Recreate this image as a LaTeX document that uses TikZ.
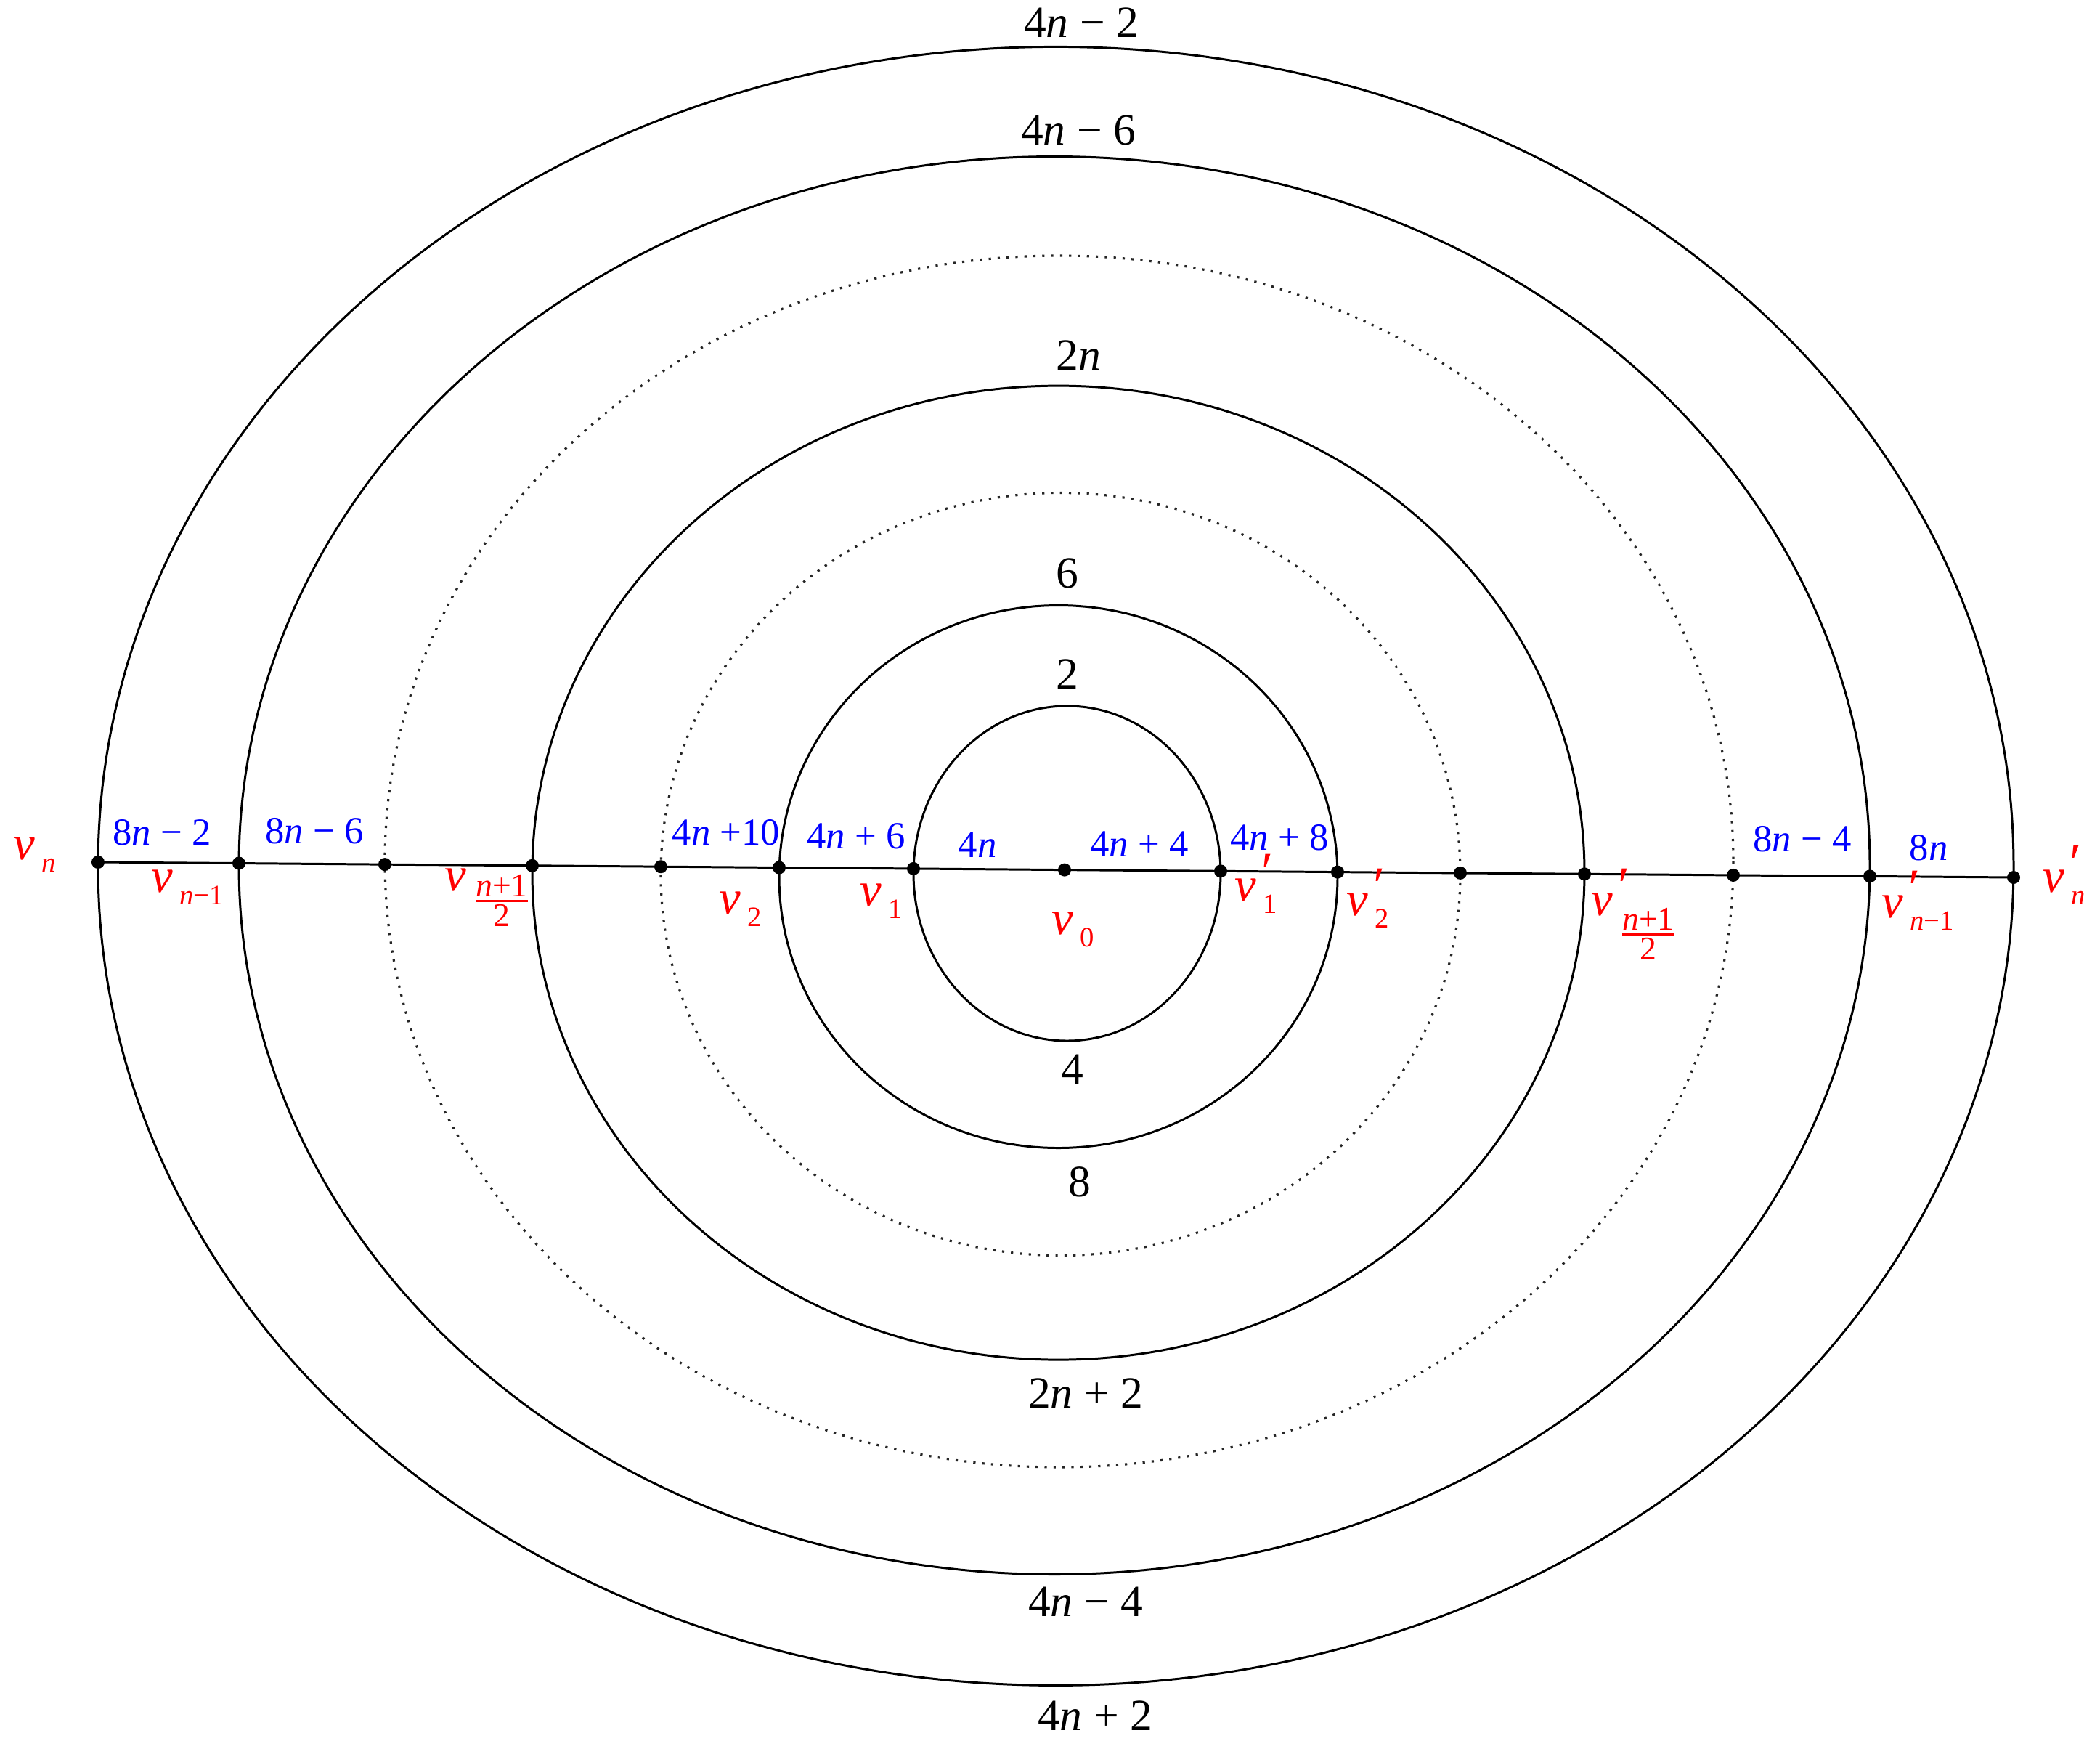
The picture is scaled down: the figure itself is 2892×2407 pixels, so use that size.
\documentclass[tikz,border=0pt]{standalone}
\usepackage{amsmath}
\usepackage{fontspec}
\setmainfont{Liberation Serif}
\newcommand{\bigv}{{\fontsize{19}{19}\selectfont\textit{v}}}
\newcommand{\subsz}{\fontsize{11}{11}\selectfont}
\newcommand{\frsz}{\fontsize{13}{13}\selectfont}
\newcommand{\prm}{\rlap{\kern2pt\raisebox{4.5pt}{\fontsize{21}{21}\selectfont ′}}}
\newcommand{\vsb}[1]{\bigv\kern2.5pt\raisebox{-5pt}{\subsz #1}}
\newcommand{\vpr}[1]{\bigv\prm\kern2.5pt\raisebox{-5pt}{\subsz #1}}
\newcommand{\hfr}{\ensuremath{\genfrac{}{}{0.9pt}{}{\hbox{\frsz\textit{n}+1}}{\hbox{\frsz 2}}}}
\newcommand{\vfrac}{\bigv\kern2.5pt\raisebox{-7pt}{\frsz\hfr}}
\newcommand{\vpfrac}{\bigv\prm\kern2.5pt\raisebox{-10.5pt}{\frsz\hfr}}
\tikzset{
  ring/.style={line width=0.85pt},
  dotring/.style={line width=0.9pt, black!85, dash pattern=on 0.9pt off 2.6pt},
  axisline/.style={line width=0.85pt},
  vdot/.style={circle, fill=black, inner sep=0pt, minimum size=1.8mm},
  blab/.style={font=\fontsize{17.5}{17.5}\selectfont, inner sep=0pt},
  elab/.style={text=blue, font=\fontsize{15}{15}\selectfont, inner sep=0pt},
  vlab/.style={text=red, inner sep=0pt, anchor=base west},
}
\begin{document}
\begin{tikzpicture}[x=0.1mm,y=-0.1mm]
\useasboundingbox (0,0) rectangle (2892,2407);
% rings
\draw[ring]    (1469.5,1202.5) ellipse [x radius=211.5, y radius=230.5];
\draw[ring]    (1457.5,1207)   ellipse [x radius=384.5, y radius=373.5];
\draw[dotring] (1460.5,1203.5) ellipse [x radius=550.5, y radius=525];
\draw[ring]    (1457.5,1201.6) ellipse [x radius=724.5, y radius=670.5];
\draw[dotring] (1458.5,1186)   ellipse [x radius=928.5, y radius=834];
\draw[ring]    (1452,1191.5)   ellipse [x radius=1123, y radius=976];
\draw[ring]    (1454,1192.4)   ellipse [x radius=1319, y radius=1128];
% vertex positions
\coordinate (p1)  at (135,1187.0);
\coordinate (p2)  at (329,1188.5);
\coordinate (p3)  at (530,1190.1);
\coordinate (p4)  at (733,1191.8);
\coordinate (p5)  at (910,1193.2);
\coordinate (p6)  at (1073,1194.5);
\coordinate (p7)  at (1258,1195.9);
\coordinate (p8)  at (1466,1197.6);
\coordinate (p9)  at (1681,1199.3);
\coordinate (p10) at (1842,1200.6);
\coordinate (p11) at (2011,1201.9);
\coordinate (p12) at (2182,1203.3);
\coordinate (p13) at (2387,1204.9);
\coordinate (p14) at (2575,1206.4);
\coordinate (p15) at (2773,1208.0);
\draw[axisline] (p1) -- (p15);
\foreach \i in {1,...,15} { \node[vdot] (d\i) at (p\i) {}; }
% black labels
\node[blab] (l1)  at (1489,31)   {4\textit{n} − 2};
\node[blab] (l2)  at (1485,179)  {4\textit{n} − 6};
\node[blab] (l3)  at (1485,489)  {2\textit{n}};
\node[blab] (l4)  at (1470,789)  {6};
\node[blab] (l5)  at (1470,928)  {2};
\node[blab] (l6)  at (1477,1472) {4};
\node[blab] (l7)  at (1487,1627) {8};
\node[blab] (l8)  at (1495,1918) {2\textit{n} + 2};
\node[blab] (l9)  at (1495,2205) {4\textit{n} − 4};
\node[blab] (l10) at (1508,2362) {4\textit{n} + 2};
% blue labels
\node[elab] (e1) at (223,1146)  {8\textit{n} − 2};
\node[elab] (e2) at (433,1144)  {8\textit{n} − 6};
\node[elab] (e3) at (1000,1146) {4\textit{n} +10};
\node[elab] (e4) at (1179,1151) {4\textit{n} + 6};
\node[elab] (e5) at (1346,1163) {4\textit{n}};
\node[elab] (e6) at (1569,1162) {4\textit{n} + 4};
\node[elab] (e7) at (1762,1153) {4\textit{n} + 8};
\node[elab] (e8) at (2482,1155) {8\textit{n} − 4};
\node[elab] (e9) at (2656,1167) {8\textit{n}};
% red vertex labels
\node[vlab] (r1)  at (18,1183)   {\vsb{\textit{n}}};
\node[vlab] (r2)  at (208,1228)  {\vsb{\textit{n}−1}};
\node[vlab] (r3)  at (612,1226)  {\vfrac};
\node[vlab] (r4)  at (990,1258)  {\vsb{2}};
\node[vlab] (r5)  at (1184,1247) {\vsb{1}};
\node[vlab] (r6)  at (1448,1286) {\vsb{0}};
\node[vlab] (r7)  at (1700,1240) {\vpr{1}};
\node[vlab] (r8)  at (1854,1260) {\vpr{2}};
\node[vlab] (r9)  at (2191,1260) {\vpfrac};
\node[vlab] (r10) at (2591,1263) {\vpr{\textit{n}−1}};
\node[vlab] (r11) at (2813,1228) {\vpr{\textit{n}}};
\end{tikzpicture}
\end{document}
